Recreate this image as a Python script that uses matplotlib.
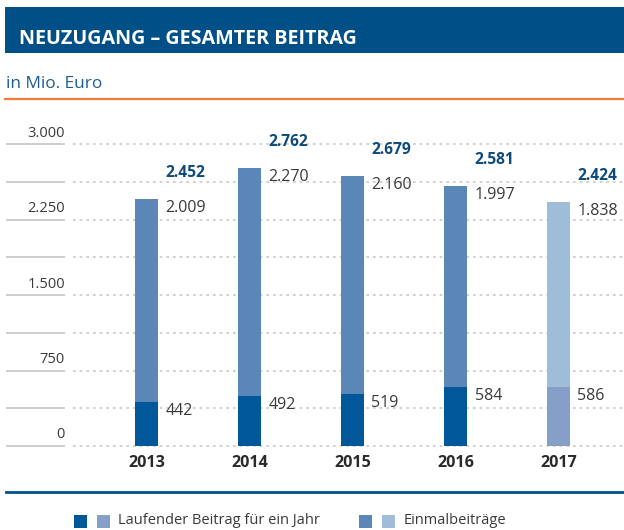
import matplotlib
matplotlib.use("Agg")
import matplotlib.pyplot as plt
from matplotlib.patches import Rectangle
from matplotlib.transforms import offset_copy, Affine2D
import numpy as np

# ---------------- data ----------------
years = ["2013", "2014", "2015", "2016", "2017"]
laufend = [442, 492, 519, 584, 586]
einmal = [2009, 2270, 2160, 1997, 1838]
gesamt = [2452, 2762, 2679, 2581, 2424]
yticks = [0, 750, 1500, 2250, 3000]
gridvals = [0, 375, 750, 1125, 1500, 1875, 2250, 2625, 3000]
title = "NEUZUGANG – GESAMTER BEITRAG"
unit = "in Mio. Euro"
legend_labels = ["Laufender Beitrag für ein Jahr", "Einmalbeiträge"]

# ---------------- style ----------------
C_BAND = "#004f87"
C_LAUF = "#00579a"
C_EINM = "#5b87b8"
C_LAUF_P = "#869fc8"
C_EINM_P = "#9fbcd9"
C_TOTAL = "#0d4a7c"
C_TEXT = "#3a3a3a"
C_GRID = "#c9c9c9"
C_ORANGE = "#f07d3c"
FONT = ["Open Sans", "DejaVu Sans"]
plt.rcParams["font.family"] = FONT

W, H = 624, 530
fig = plt.figure(figsize=(W / 100, H / 100), dpi=100)
pix = Affine2D().scale(1 / W, -1 / H).translate(0, 1) + fig.transFigure  # pixel coords, origin top-left

# header band
fig.add_artist(Rectangle((5, 7), 619, 46, transform=pix, color=C_BAND, lw=0))
fig.text(19, 39, title, transform=pix, color="white", fontsize=14.2,
         fontweight="bold", va="center", ha="left")
fig.text(5.5, 84.5, unit, transform=pix, color="#1d5c92", fontsize=12.4,
         va="center", ha="left")
fig.add_artist(plt.Line2D([5, 624], [99, 99], transform=pix, color=C_ORANGE, lw=1.6))

# axes: x pixel 6..624, y pixel 130..452
ax_left, ax_right, ax_top, ax_bot = 6, 624, 130, 452
ax = fig.add_axes([ax_left / W, 1 - ax_bot / H, (ax_right - ax_left) / W, (ax_bot - ax_top) / H])
ax.set_axis_off()
spacing = 103.0
c0 = 146.5
ax.set_xlim((ax_left - c0) / spacing, (ax_right - c0) / spacing)
ppu = 302.0 / 3000.0
y0pix = 446.0
ax.set_ylim(-(ax_bot - y0pix) / ppu, (y0pix - ax_top) / ppu)

def px2x(p):
    return (p - c0) / spacing

for g in gridvals:
    ax.plot([px2x(6), px2x(65)], [g, g], color=C_GRID, lw=1.3, solid_capstyle="butt", zorder=1)
    ax.plot([px2x(73), px2x(624)], [g, g], color=C_GRID, lw=1.2,
            linestyle=(0, (1.6, 2.4)), zorder=1)

for t in yticks:
    ax.text(px2x(65), t, f"{t:,}".replace(",", "."), ha="right", va="center",
            fontsize=10.5, color=C_TEXT,
            transform=offset_copy(ax.transData, fig=fig, x=0, y=11 * 0.72, units="points"))

x = np.arange(len(years))
bw = 23 / spacing
c_l = [C_LAUF] * 4 + [C_LAUF_P]
c_e = [C_EINM] * 4 + [C_EINM_P]
ax.bar(x, laufend, width=bw, color=c_l, lw=0, zorder=2)
ax.bar(x, einmal, bottom=laufend, width=bw, color=c_e, lw=0, zorder=2)

lab_dx = bw / 2 + 7.5 / spacing
for i in range(len(years)):
    top = laufend[i] + einmal[i]
    ax.text(x[i] + lab_dx, laufend[i], str(laufend[i]), ha="left", va="center",
            fontsize=11.5, color=C_TEXT,
            transform=offset_copy(ax.transData, fig=fig, x=0, y=-9 * 0.72, units="points"))
    ax.text(x[i] + lab_dx, top, f"{einmal[i]:,}".replace(",", "."), ha="left", va="center",
            fontsize=11.5, color=C_TEXT,
            transform=offset_copy(ax.transData, fig=fig, x=0, y=-9 * 0.72, units="points"))
    ax.text(x[i] + lab_dx, top, f"{gesamt[i]:,}".replace(",", "."), ha="left", va="center",
            fontsize=11.2, color=C_TOTAL, fontweight="bold",
            transform=offset_copy(ax.transData, fig=fig, x=0, y=26 * 0.72, units="points"))
    ax.text(x[i], 0, years[i], ha="center", va="center", fontsize=11.6, fontweight="bold",
            color="#2a2a2a",
            transform=offset_copy(ax.transData, fig=fig, x=0, y=-17 * 0.72, units="points"))

# bottom rule
fig.add_artist(plt.Line2D([6, 624], [492, 492], transform=pix, color="#00528e", lw=2.0))

# legend
sq = 13
leg = [((74, C_LAUF), (97, C_LAUF_P), 118, legend_labels[0]),
       ((359, C_EINM), (382, C_EINM_P), 404, legend_labels[1])]
for (xa, ca), (xb, cb), xt, lab in leg:
    fig.add_artist(Rectangle((xa, 514.5), sq, sq, transform=pix, color=ca, lw=0))
    fig.add_artist(Rectangle((xb, 514.5), sq, sq, transform=pix, color=cb, lw=0))
    fig.text(xt, 521, lab, transform=pix, fontsize=10.5, color=C_TEXT, va="center", ha="left")

fig.savefig("out.png", dpi=100)
